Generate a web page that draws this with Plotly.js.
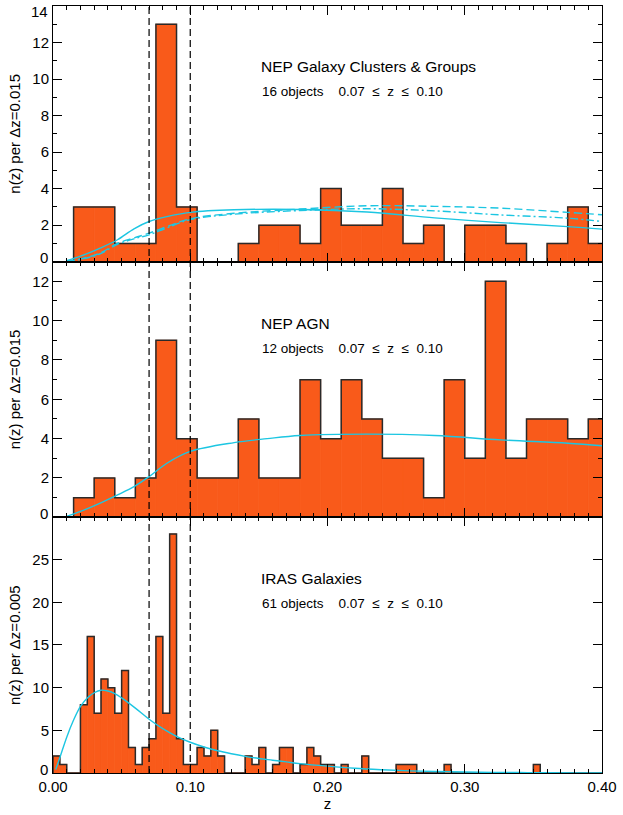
<!DOCTYPE html>
<html>
<head>
<meta charset="utf-8">
<script src="https://cdn.plot.ly/plotly-3.0.1.min.js"></script>
<style>html,body{margin:0;padding:0;background:#fff;}#chart{width:623px;height:815px;}</style>
</head>
<body>
<div id="chart"></div>
<script>
// ---- Data ----
const nepBinStart = 0.015;
const nepBinWidth = 0.015;
const clusterCounts = [3,3,1,1,13,3,0,0,1,2,2,1,4,2,2,4,1,2,0,2,2,1,0,1,3,1];
const agnCounts     = [1,2,1,2,9,4,2,2,5,2,2,7,4,7,5,3,3,1,7,3,12,3,5,5,4,5];

const irasBinStart = 0.0;
const irasBinWidth = 0.005;
const irasCounts = [2,1,0,0,8,16,7,11,10,7,12,3,1,3,4,16,7,28,4,1,
                    1,3,2,5,2,0,0,0,2,1,3,0,1,3,3,0,1,3,2,1,
                    1,0,1,0,0,2,0,0,0,0,1,1,1,0,0,0,0,1,0,0,
                    0,0,0,0,0,0,0,0,0,0,1,0,0,0,0,0,0,0,0,0];

// model curves
const clusterCurveZ   = [0.010,0.020,0.034,0.047,0.059,0.070,0.083,0.100,0.132,0.180,0.229,0.278,0.326,0.375,0.400];
const clusterSolid    = [0.05, 0.30, 0.73, 1.20, 1.80, 2.20, 2.47, 2.70, 2.84, 2.86, 2.72, 2.40, 2.14, 1.92, 1.78];
const clusterDashed   = [0.02, 0.15, 0.46, 1.00, 1.30, 1.56, 1.92, 2.35, 2.65, 2.88, 3.06, 3.03, 2.93, 2.70, 2.57];
const clusterDashDot  = [0.02, 0.13, 0.42, 0.95, 1.25, 1.47, 1.85, 2.30, 2.60, 2.80, 2.90, 2.78, 2.56, 2.38, 2.20];

const agnCurveZ = [0.010,0.020,0.034,0.047,0.059,0.070,0.083,0.100,0.132,0.156,0.180,0.229,0.278,0.326,0.375,0.400];
const agnCurve  = [0.05, 0.30, 0.71, 1.14, 1.56, 2.07, 2.75, 3.35, 3.80, 4.00, 4.16, 4.23, 4.16, 3.94, 3.77, 3.64];

const irasCurveZ = [0.002,0.005,0.010,0.015,0.020,0.025,0.030,0.035,0.040,0.045,0.050,0.060,0.070,0.080,0.090,0.100,
                    0.110,0.120,0.130,0.140,0.150,0.160,0.170,0.180,0.200,0.220,0.240,0.260,0.280,0.300,0.320,0.340,0.360,0.380,0.400];
const irasCurve  = [0.4, 1.8, 4.2, 6.2, 7.8, 8.8, 9.4, 9.7, 9.6, 9.3, 8.8, 7.6, 6.3, 5.2, 4.3, 3.6,
                    3.05,2.6, 2.25,1.95,1.7, 1.5, 1.3, 1.1, 0.8, 0.55,0.38,0.25,0.17,0.11,0.07,0.05,0.03,0.02,0.01];

const panelTitles = ["NEP Galaxy Clusters & Groups", "NEP AGN", "IRAS Galaxies"];
const panelObjects = ["16 objects", "12 objects", "61 objects"];
const yTitles = ["n(z) per \u0394z=0.015", "n(z) per \u0394z=0.015", "n(z) per \u0394z=0.005"];
const xTickVals = [0, 0.1, 0.2, 0.3, 0.4];
const xTickText = ["0.00", "0.10", "0.20", "0.30", "0.40"];
const yTickVals1 = [0,2,4,6,8,10,12,14];
const yTickVals2 = [0,2,4,6,8,10,12];
const yTickVals3 = [0,5,10,15,20,25];
const zRange = [0.07, 0.10];

// ---- Build ----
const ORANGE = '#F95A1A';
const CYAN = '#1CC6E2';
const OUTLINE = '#2a2a2a';
const FONT = '"Liberation Sans", Arial, Helvetica, sans-serif';

function edges(start, width, n){ const e=[]; for(let i=0;i<=n;i++) e.push(+(start+i*width).toFixed(4)); return e; }

function histTraces(counts, start, width, xa, ya){
  const e = edges(start, width, counts.length);
  const bars = {type:'bar', x:e.slice(0,-1), y:counts, width:width, offset:0,
    marker:{color:ORANGE, line:{width:0.8, color:ORANGE}}, xaxis:xa, yaxis:ya, hoverinfo:'skip', showlegend:false};
  const sx=[e[0]], sy=[0];
  for(let i=0;i<counts.length;i++){ sx.push(e[i]); sy.push(counts[i]); }
  sx.push(e[counts.length]); sy.push(counts[counts.length-1]);
  sx.push(e[counts.length]); sy.push(0);
  const outline = {type:'scatter', mode:'lines', x:sx, y:sy, line:{shape:'hv', color:OUTLINE, width:1.5},
    xaxis:xa, yaxis:ya, hoverinfo:'skip', showlegend:false};
  return [bars, outline];
}
function curve(z, n, xa, ya, dash){
  return {type:'scatter', mode:'lines', x:z, y:n, line:{color:CYAN, width:1.4, shape:'spline', dash:dash||'solid'},
    xaxis:xa, yaxis:ya, hoverinfo:'skip', showlegend:false};
}

const data = [
  ...histTraces(clusterCounts, nepBinStart, nepBinWidth, 'x', 'y'),
  curve(clusterCurveZ, clusterSolid, 'x', 'y'),
  curve(clusterCurveZ, clusterDashed, 'x', 'y', '8px,4px'),
  curve(clusterCurveZ, clusterDashDot, 'x', 'y', '8px,3px,2px,3px'),
  ...histTraces(agnCounts, nepBinStart, nepBinWidth, 'x2', 'y2'),
  curve(agnCurveZ, agnCurve, 'x2', 'y2'),
  ...histTraces(irasCounts, irasBinStart, irasBinWidth, 'x3', 'y3'),
  curve(irasCurveZ, irasCurve, 'x3', 'y3')
];

function xAxis(anchor, labels){
  return {anchor:anchor, range:[0,0.4], showline:true, linecolor:'black', linewidth:1, mirror:'ticks',
    ticks:'inside', ticklen:9, tickcolor:'black', tickvals:xTickVals, ticktext:xTickText,
    showticklabels:labels, showgrid:false, zeroline:false, ticklabeloverflow:'allow',
    minor:{dtick:0.01, tick0:0, ticks:'inside', ticklen:4, tickcolor:'black', showgrid:false},
    tickfont:{family:FONT, size:15, color:'black'},
    title: labels ? {text:'z', font:{family:FONT, size:15, color:'black'}, standoff:2} : undefined};
}
// edge labels (bottom "0" and top of range) are drawn as annotations nudged inward, like the reference
function yAxis(anchor, domain, range, tickvals, edgeVals, minorDtick, title){
  const a = {anchor:anchor, domain:domain, range:range, tickvals:tickvals,
    ticktext:tickvals.map(v => edgeVals.includes(v) ? '' : String(v)),
    showline:true, linecolor:'black',
    linewidth:1, mirror:'ticks', ticks:'inside', ticklen:9, tickcolor:'black', showgrid:false, zeroline:false,
    tickfont:{family:FONT, size:15, color:'black'},
    title:{text:title, font:{family:FONT, size:15, color:'black'}, standoff:8}};
  if(minorDtick) a.minor = {dtick:minorDtick, ticks:'inside', ticklen:4, tickcolor:'black', showgrid:false};
  return a;
}

const annotations = [];
const titleY = [0.9205, 0.5867, 0.254];
const subY   = [0.889, 0.554, 0.2216];
for(let i=0;i<3;i++){
  annotations.push({xref:'paper', yref:'paper', x:0.375, y:titleY[i], xanchor:'left', yanchor:'middle',
    text:panelTitles[i], showarrow:false, font:{family:FONT, size:15.5, color:'black'}});
  annotations.push({xref:'paper', yref:'paper', x:0.377, y:subY[i], xanchor:'left', yanchor:'middle',
    text:panelObjects[i] + '\u00a0\u00a0\u00a0\u00a0' + zRange[0].toFixed(2) + '\u00a0\u00a0\u2264\u00a0\u00a0z\u00a0\u00a0\u2264\u00a0\u00a0' + zRange[1].toFixed(2),
    showarrow:false, font:{family:FONT, size:13.5, color:'black'}});
}
const edgeLabels = [
  {yref:'y', v:0, shift:4}, {yref:'y', v:14, shift:-5},
  {yref:'y2', v:0, shift:4},
  {yref:'y3', v:0, shift:4}
];
edgeLabels.forEach(e => annotations.push({xref:'paper', yref:e.yref, x:0, y:e.v, xanchor:'right', yanchor:'middle',
  xshift:-3, yshift:e.shift, text:String(e.v), showarrow:false, font:{family:FONT, size:15, color:'black'}}));

const shapes = zRange.map(v => ({type:'line', xref:'x3', yref:'paper', x0:v, x1:v, y0:0, y1:1,
  line:{color:'black', width:1.2, dash:'7px,4px'}, layer:'above'}));

const layout = {
  width:623, height:815, margin:{l:53, r:21, t:6, b:42},
  paper_bgcolor:'white', plot_bgcolor:'white', showlegend:false, barmode:'overlay',
  font:{family:FONT, color:'black'},
  xaxis: xAxis('y', false), xaxis2: xAxis('y2', false), xaxis3: xAxis('y3', true),
  yaxis:  yAxis('x',  [2/3, 1],   [0, 14],    yTickVals1, [0,14], 1, yTitles[0]),
  yaxis2: yAxis('x2', [1/3, 2/3], [0, 13],    yTickVals2, [0], 1, yTitles[1]),
  yaxis3: yAxis('x3', [0, 1/3],   [0, 29.95], yTickVals3, [0], null, yTitles[2]),
  annotations: annotations, shapes: shapes
};

Plotly.newPlot('chart', data, layout, {staticPlot:true, displayModeBar:false});
</script>
</body>
</html>
